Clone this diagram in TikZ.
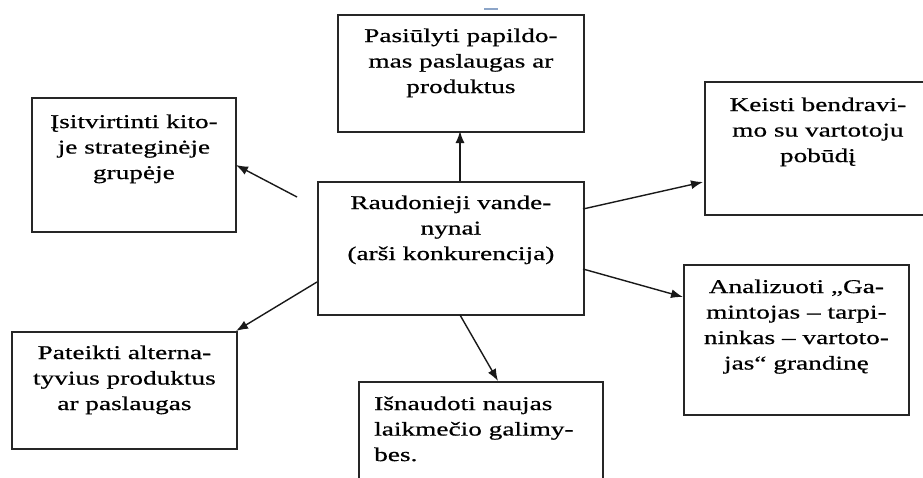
\documentclass[tikz,border=0pt]{standalone}
\usepackage{fontspec}
\setmainfont{Liberation Serif}[FakeStretch=1.4,FakeBold=0.6]
\usetikzlibrary{arrows.meta}
\definecolor{markblue}{RGB}{140,165,200}
\tikzset{
  box/.style={draw=black!85, line width=1.8pt, inner sep=0pt, anchor=north west},
  txt/.style={anchor=north, inner sep=0pt, align=center, font=\fontsize{19.5}{25.5}\selectfont},
  txtl/.style={anchor=north west, inner sep=0pt, align=left, font=\fontsize{19.5}{25.5}\selectfont},
  arr/.style={line width=1.4pt, draw=black!90, -{Latex[length=12pt,width=9pt]}}
}
\begin{document}
\begin{tikzpicture}[x=1pt,y=-1pt]
\clip (0,0) rectangle (923,477);
\fill[white] (0,0) rectangle (923,477);
% small mark
\fill[markblue] (484,7.5) rectangle (498,9.5);
% boxes
\node[box, minimum width=246pt, minimum height=117pt] (top) at (337,14) {};
\node[box, minimum width=204pt, minimum height=134pt] (lt) at (31,97) {};
\node[box, minimum width=226pt, minimum height=133pt] (rt) at (704,81) {};
\node[box, minimum width=266pt, minimum height=133pt] (ctr) at (317,181) {};
\node[box, minimum width=225pt, minimum height=150pt] (rb) at (683,264) {};
\node[box, minimum width=225pt, minimum height=117pt] (lb) at (11,331) {};
\node[box, minimum width=244pt, minimum height=130pt] (bm) at (358,381) {};
% texts
\node[txt] (ttop) at ([yshift=-10pt]top.north) {\strut Pasiūlyti papildo-\\mas paslaugas ar\\produktus};
\node[txt] (tlt) at ([yshift=-13pt]lt.north) {\strut Įsitvirtinti kito-\\je strateginėje\\grupėje};
\node[txt] (trt) at ([yshift=-12pt]rt.north) {\strut Keisti bendravi-\\mo su vartotoju\\pobūdį};
\node[txt] (tctr) at ([yshift=-10pt]ctr.north) {\strut Raudonieji vande-\\nynai\\(arši konkurencija)};
\node[txt] (trb) at ([yshift=-11pt]rb.north) {\strut Analizuoti „Ga-\\mintojas – tarpi-\\ninkas – vartoto-\\jas“ grandinę};
\node[txt] (tlb) at ([yshift=-10pt]lb.north) {\strut Pateikti alterna-\\tyvius produktus\\ar paslaugas};
\node[txtl] (tbm) at (374,392) {\strut Išnaudoti naujas\\laikmečio galimy-\\bes.};
% connectors
\coordinate (s1) at (297,197); \coordinate (e1) at (236,165);
\coordinate (s2) at (460,181); \coordinate (e2) at (460,131);
\coordinate (s3) at (583,209); \coordinate (e3) at (703,182);
\coordinate (s4) at (583,269); \coordinate (e4) at (683,297);
\coordinate (s5) at (317,282); \coordinate (e5) at (236,331);
\coordinate (s6) at (460,315); \coordinate (e6) at (498,381);
\draw[arr] (s1) -- (e1);
\draw[arr] (s2) -- (e2);
\draw[arr] (s3) -- (e3);
\draw[arr] (s4) -- (e4);
\draw[arr] (s5) -- (e5);
\draw[arr] (s6) -- (e6);
\end{tikzpicture}
\end{document}
